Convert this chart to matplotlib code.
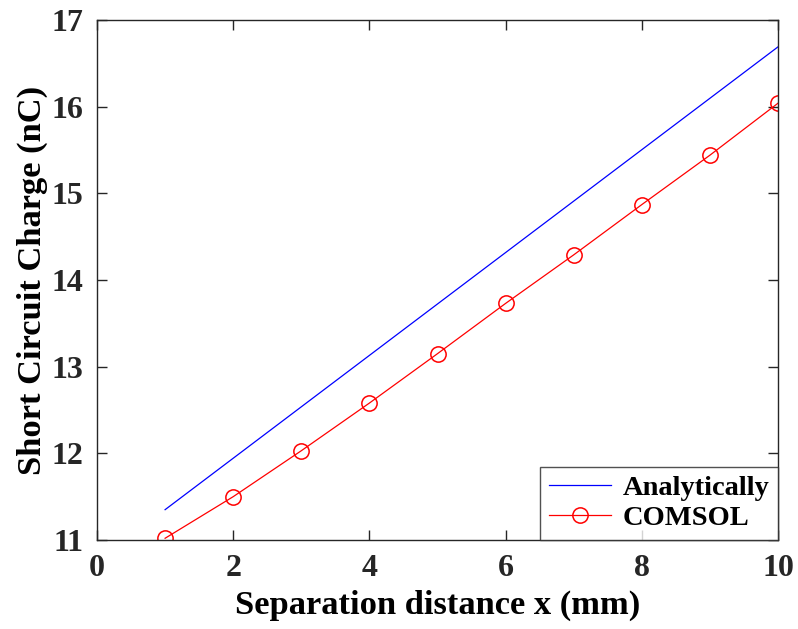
import matplotlib
matplotlib.use('Agg')
import matplotlib.pyplot as plt

# Analytical line (read at the ends and middle)
x_analytic = [1, 5.5, 10]
q_analytic = [11.35, 14.02, 16.69]

# COMSOL points
x_comsol = [1, 2, 3, 4, 5, 6, 7, 8, 9, 10]
q_comsol = [11.02, 11.50, 12.03, 12.58, 13.15, 13.73, 14.29, 14.87, 15.44, 16.04]

x_ticks = [0, 2, 4, 6, 8, 10]
y_ticks = [11, 12, 13, 14, 15, 16, 17]

plt.rcParams['font.family'] = ['Liberation Serif', 'DejaVu Serif']
plt.rcParams['font.weight'] = 'bold'

fig = plt.figure(figsize=(7.98, 6.29), dpi=100)
ax = fig.add_axes([97 / 798, 1 - 540 / 629, (778 - 97) / 798, (540 - 20) / 629])

ax.plot(x_analytic, q_analytic, color='blue', lw=0.9, label='Analytically')
ax.plot(x_comsol, q_comsol, color='red', lw=0.9, marker='o', ms=11,
        mfc='none', mec='red', mew=1.1, label='COMSOL')

ax.set_xlim(0, 10)
ax.set_ylim(11, 17)
ax.set_xticks(x_ticks)
ax.set_yticks(y_ticks)
ax.tick_params(direction='in', length=7, width=1, top=True, right=True,
               labelsize=23, colors='#262626', pad=10)
for s in ax.spines.values():
  s.set_color('#262626')
  s.set_linewidth(1)

ax.set_xlabel('Separation distance x (mm)', fontsize=24.8, fontweight='bold', labelpad=5)
ax.set_ylabel('Short Circuit Charge (nC)', fontsize=24.8, fontweight='bold', labelpad=2)

leg = ax.legend(loc='lower right', fontsize=20.5, frameon=True, fancybox=False,
                borderaxespad=0, handlelength=2.2, borderpad=0.3,
                labelspacing=0.15, handletextpad=0.4)
leg.get_frame().set_edgecolor('#262626')
leg.get_frame().set_linewidth(1)
for t in leg.get_texts():
  t.set_fontweight('bold')

fig.savefig('out.png', dpi=100)
